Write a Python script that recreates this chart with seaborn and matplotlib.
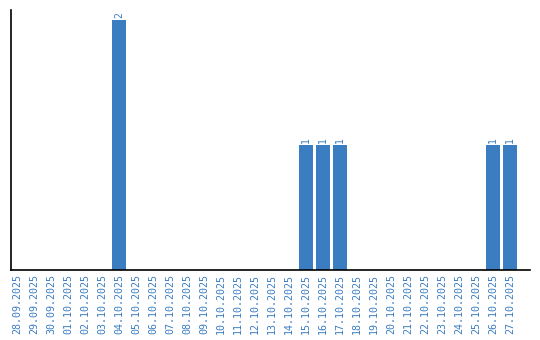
import matplotlib
matplotlib.use("Agg")
import matplotlib.pyplot as plt
import seaborn as sns
import pandas as pd

dates = ["28.09.2025", "29.09.2025", "30.09.2025", "01.10.2025", "02.10.2025", "03.10.2025",
         "04.10.2025", "05.10.2025", "06.10.2025", "07.10.2025", "08.10.2025", "09.10.2025",
         "10.10.2025", "11.10.2025", "12.10.2025", "13.10.2025", "14.10.2025", "15.10.2025",
         "16.10.2025", "17.10.2025", "18.10.2025", "19.10.2025", "20.10.2025", "21.10.2025",
         "22.10.2025", "23.10.2025", "24.10.2025", "25.10.2025", "26.10.2025", "27.10.2025"]
counts = [0, 0, 0, 0, 0, 0, 2, 0, 0, 0, 0, 0, 0, 0, 0, 0, 0, 1, 1, 1,
          0, 0, 0, 0, 0, 0, 0, 0, 1, 1]

blue = "#3b7dc1"
sns.set_style("white")
plt.rcParams['font.family'] = ['DejaVu Sans Mono', 'DejaVu Sans']

df = pd.DataFrame({"date": dates, "count": counts})
fig = plt.figure(figsize=(5.4, 3.4), dpi=100)
ax = fig.add_axes([11/540, 70/340, 519/540, 260/340])
sns.barplot(data=df, x="date", y="count", color=blue, saturation=1, width=0.84,
            linewidth=0, ax=ax)

for i, v in enumerate(counts):
    if v > 0:
        ax.text(i, v + 0.02, str(v), rotation=90, ha="center", va="bottom",
                fontsize=7, color=blue)

ax.set_xlim(-0.35, 30.18)
ax.set_ylim(0, 2.08)
ax.set_xlabel("")
ax.set_ylabel("")
ax.set_yticks([])
ax.tick_params(axis="x", length=0, pad=3, labelsize=7.2, labelcolor=blue, rotation=90)
for s in ["top", "right"]:
    ax.spines[s].set_visible(False)
for s in ["left", "bottom"]:
    ax.spines[s].set_color("black")
    ax.spines[s].set_linewidth(1.2)

fig.savefig("out.png", dpi=100)
